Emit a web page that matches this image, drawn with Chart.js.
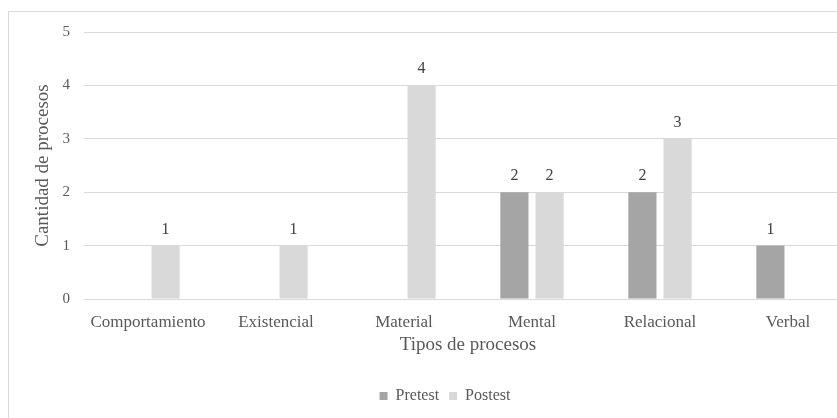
<!DOCTYPE html>
<html>
<head>
<meta charset="utf-8">
<script src="https://cdn.jsdelivr.net/npm/chart.js@4"></script>
<style>
  html, body { margin: 0; padding: 0; background: #fff; overflow: hidden; }
  #frame { position: absolute; left: 8px; top: 11px; width: 900px; height: 500px;
           border: 1.5px solid #d9d9d9; box-sizing: border-box; }
  #chart { position: absolute; left: 0; top: 0; }
</style>
</head>
<body>
<div id="frame"></div>
<canvas id="chart" width="870" height="418"></canvas>
<script>
const categories = ['Comportamiento', 'Existencial', 'Material', 'Mental', 'Relacional', 'Verbal'];
const pretest = [0, 0, 0, 2, 2, 1];
const postest = [1, 1, 4, 2, 3, 0];
const yTicks = [0, 1, 2, 3, 4, 5];

const FONT = "'Liberation Serif', 'Times New Roman', serif";
const TEXT = '#595959';

// value labels above each non-zero bar
const valueLabels = {
  id: 'valueLabels',
  afterDatasetsDraw(chart) {
    const ctx = chart.ctx;
    ctx.save();
    ctx.font = '16px ' + FONT;
    ctx.fillStyle = '#404040';
    ctx.textAlign = 'center';
    ctx.textBaseline = 'alphabetic';
    chart.data.datasets.forEach((ds, i) => {
      chart.getDatasetMeta(i).data.forEach((bar, j) => {
        const v = ds.data[j];
        if (v > 0) ctx.fillText(String(v), bar.x, bar.y - 12);
      });
    });
    ctx.restore();
  }
};

new Chart(document.getElementById('chart'), {
  type: 'bar',
  data: {
    labels: categories,
    datasets: [
      { label: 'Pretest', data: pretest, backgroundColor: '#a5a5a5',
        categoryPercentage: 0.55, barPercentage: 0.8 },
      { label: 'Postest', data: postest, backgroundColor: '#d9d9d9',
        categoryPercentage: 0.55, barPercentage: 0.8 }
    ]
  },
  options: {
    responsive: false,
    animation: false,
    devicePixelRatio: 1,
    layout: { padding: { left: 38, top: 32, right: 18, bottom: 4 } },
    plugins: {
      tooltip: { enabled: false },
      legend: {
        position: 'bottom',
        labels: {
          boxWidth: 8, boxHeight: 8, padding: 10,
          color: TEXT, font: { family: FONT, size: 16 }
        }
      }
    },
    scales: {
      x: {
        afterFit: (s) => { s.height = 79; },
        grid: { display: false },
        border: { display: false },
        ticks: { color: TEXT, font: { family: FONT, size: 17 }, padding: 5, maxRotation: 0 },
        title: { display: true, text: 'Tipos de procesos', color: TEXT,
                 font: { family: FONT, size: 19 }, padding: { top: 4, bottom: 22 } }
      },
      y: {
        min: 0, max: 5,
        afterBuildTicks: (s) => { s.ticks = yTicks.map(v => ({ value: v })); },
        afterFit: (s) => { s.width = 46; },
        grid: { color: '#d9d9d9', lineWidth: 1, drawTicks: false },
        border: { display: false },
        ticks: { color: TEXT, font: { family: FONT, size: 15 }, padding: 14 },
        title: { display: true, text: 'Cantidad de procesos', color: TEXT,
                 font: { family: FONT, size: 19 }, padding: { top: -6, bottom: 0 } }
      }
    }
  },
  plugins: [valueLabels]
});
</script>
</body>
</html>
